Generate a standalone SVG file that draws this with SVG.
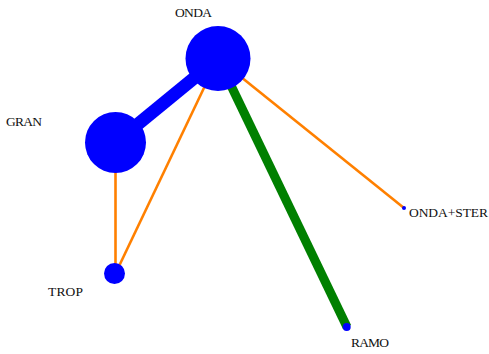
<svg xmlns="http://www.w3.org/2000/svg" width="489" height="354" viewBox="0 0 489 354">
<style>
.lbl{font-family:"Liberation Serif","DejaVu Serif",serif;font-size:13.5px;fill:#111}
.node{fill:#0000ff}
.e{stroke-linecap:butt;fill:none}
.o{stroke:#ff8000;stroke-width:2.6}
</style>
<rect width="489" height="354" fill="#fff"/>
<g id="connectors">
<line class="e o" x1="115.5" y1="142.5" x2="115.5" y2="273.5"/>
<line class="e o" x1="218" y1="58.5" x2="115.5" y2="273.5"/>
<line class="e o" x1="218" y1="58.5" x2="404" y2="208"/>
<line class="e" stroke="#0000ff" stroke-width="13" x1="115.5" y1="142.5" x2="218" y2="58.5"/>
<line class="e" stroke="#008000" stroke-width="9" x1="218" y1="58.5" x2="347" y2="327"/>
</g>
<g id="ONDA"><circle class="node" cx="218" cy="58.5" r="32.5"/><text class="lbl" x="175" y="17" textLength="37">ONDA</text></g>
<g id="GRAN"><circle class="node" cx="115.5" cy="142.5" r="30.5"/><text class="lbl" x="6" y="126" textLength="36">GRAN</text></g>
<g id="TROP"><circle class="node" cx="114.5" cy="273.5" r="10.5"/><text class="lbl" x="48" y="296" textLength="35">TROP</text></g>
<g id="ONDA_STER"><circle class="node" cx="404" cy="208" r="2"/><text class="lbl" x="409" y="217" textLength="79">ONDA+STER</text></g>
<g id="RAMO"><circle class="node" cx="346.7" cy="327" r="4"/><text class="lbl" x="351" y="347" textLength="38">RAMO</text></g>
</svg>
